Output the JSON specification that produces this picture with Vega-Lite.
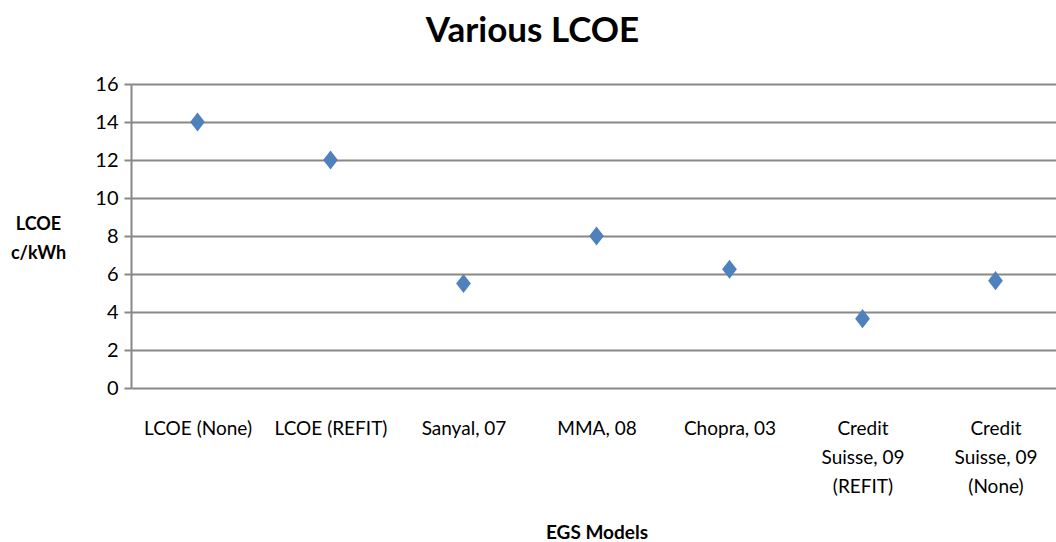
{
  "$schema": "https://vega.github.io/schema/vega-lite/v6.json",
  "autosize": "none",
  "width": 931,
  "height": 304,
  "padding": {"left": 131, "top": 84, "right": 0, "bottom": 154},
  "background": "white",
  "title": {
    "text": "Various LCOE",
    "font": "Lato",
    "fontSize": 35,
    "fontWeight": "bold",
    "color": "black",
    "anchor": "middle",
    "dx": -64,
    "offset": 25
  },
  "data": {
    "values": [
      {"model": "LCOE (None)", "lcoe": 14},
      {"model": "LCOE (REFIT)", "lcoe": 12},
      {"model": "Sanyal, 07", "lcoe": 5.5},
      {"model": "MMA, 08", "lcoe": 8},
      {"model": "Chopra, 03", "lcoe": 6.25},
      {"model": "Credit Suisse, 09 (REFIT)", "lcoe": 3.65},
      {"model": "Credit Suisse, 09 (None)", "lcoe": 5.65}
    ]
  },
  "config": {
    "view": {"stroke": null},
    "axis": {
      "labelFont": "Lato",
      "titleFont": "Lato",
      "labelColor": "black",
      "titleColor": "black"
    }
  },
  "mark": {
    "type": "point",
    "shape": "M0,-1.2L0.92,0L0,1.2L-0.92,0Z",
    "size": 256,
    "filled": true,
    "opacity": 1,
    "color": "#4F81BD"
  },
  "encoding": {
    "x": {
      "field": "model",
      "type": "nominal",
      "sort": null,
      "scale": {"paddingInner": 0, "paddingOuter": 0},
      "axis": {
        "title": "EGS Models",
        "titleFontSize": 19,
        "titleFontWeight": "bold",
        "titleY": 144,
        "titleBaseline": "middle",
        "labelAngle": 0,
        "labelFontSize": 19,
        "labelPadding": 40,
        "labelLineHeight": 29,
        "labelBaseline": "middle",
        "ticks": false,
        "domain": false,
        "grid": false,
        "labelExpr": "datum.value == 'Credit Suisse, 09 (REFIT)' ? ['Credit', 'Suisse, 09', '(REFIT)'] : datum.value == 'Credit Suisse, 09 (None)' ? ['Credit', 'Suisse, 09', '(None)'] : datum.value"
      }
    },
    "y": {
      "field": "lcoe",
      "type": "quantitative",
      "scale": {"domain": [0, 16], "nice": false},
      "axis": {
        "values": [0, 2, 4, 6, 8, 10, 12, 14, 16],
        "title": ["LCOE", "c/kWh"],
        "titleFontSize": 18,
        "titleFontWeight": "bold",
        "titleAngle": 0,
        "titleAlign": "center",
        "titleBaseline": "middle",
        "titleLineHeight": 29,
        "titleX": -93,
        "titleY": 140,
        "labelFontSize": 20,
        "labelPadding": 6,
        "tickSize": 7,
        "tickColor": "#888888",
        "tickWidth": 2,
        "domainColor": "#888888",
        "domainWidth": 2,
        "gridColor": "#888888",
        "gridWidth": 2,
        "gridOpacity": 1
      }
    }
  }
}
